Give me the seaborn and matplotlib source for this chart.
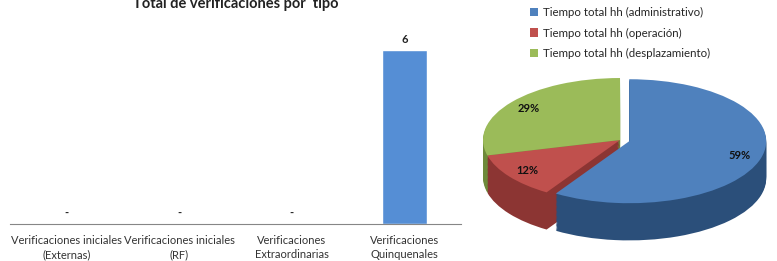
import numpy as np
import pandas as pd
import matplotlib
matplotlib.use("Agg")
import matplotlib.pyplot as plt
import seaborn as sns

tipos = ["Verificaciones iniciales\n(Externas)", "Verificaciones iniciales\n(RF)",
         "Verificaciones\nExtraordinarias", "Verificaciones\nQuinquenales"]
verificaciones = [0, 0, 0, 6]

tiempos = ["Tiempo total hh (administrativo)", "Tiempo total hh (operación)",
           "Tiempo total hh (desplazamiento)"]
porcentajes = [59, 12, 29]

sns.set_style("white")
plt.rcParams["font.family"] = ["Lato", "DejaVu Sans"]

bar_color = "#558ED5"
top_colors = ["#4F81BD", "#C0504D", "#9BBB59"]
side_colors = ["#2B4F7A", "#8C3533", "#6E8A3A"]

fig = plt.figure(figsize=(7.77, 2.61), dpi=100)

# --- bar chart ---
ax = fig.add_axes([10 / 777, 37 / 261, 451 / 777, 194 / 261])
df = pd.DataFrame({"tipo": tipos, "n": verificaciones})
sns.barplot(data=df, x="tipo", y="n", color=bar_color, width=0.4,
            saturation=1, ax=ax)
ax.set_xlim(-0.5, 3.5)
ax.set_ylim(0, 6.69)
ax.set_xlabel("")
ax.set_ylabel("")
ax.set_yticks([])
for s in ["top", "right", "left"]:
    ax.spines[s].set_visible(False)
ax.spines["bottom"].set_color("#868686")
ax.spines["bottom"].set_linewidth(0.8)
ax.set_xticks(np.arange(-0.5, 4, 1), minor=True)
ax.tick_params(axis="x", which="minor", length=5, color="#868686", width=0.8)
ax.tick_params(axis="x", which="major", length=0, pad=8, labelsize=8,
               labelcolor="#333333")
for t in ax.get_xticklabels():
    t.set_linespacing(1.3)
labels = ["-" if v == 0 else str(v) for v in verificaciones]
ax.bar_label(ax.containers[0], labels=labels, padding=3.5, fontsize=8,
             fontweight="bold", color="#222222")
ax.set_title("Total de verificaciones por  tipo", fontsize=10.5,
             fontweight="bold", pad=16, color="#222222")

# --- 3D-looking pie ---
pax = fig.add_axes([470 / 777, 6 / 261, 307 / 777, 190 / 261])
explode = [0.07, 0, 0]
depth = 0.6
steps = 30
for k in range(steps, 0, -1):
    pax.pie(porcentajes, colors=side_colors, startangle=90, counterclock=False,
            explode=explode, center=(0, -depth * k / steps),
            wedgeprops=dict(linewidth=0))
wedges, _, autotexts = pax.pie(
    porcentajes, colors=top_colors, startangle=90, counterclock=False,
    explode=explode, autopct=lambda p: f"{round(p)}%", pctdistance=0.84,
    wedgeprops=dict(linewidth=0),
    textprops=dict(fontsize=8, fontweight="bold", color="#111111"))
pax.set_aspect("auto")
pax.set_xlim(-1.095, 1.146)
pax.set_ylim(-1.855, 1.21)

fig.legend(wedges, tiempos, loc="upper left",
           bbox_to_anchor=(530 / 777, 1 - 7 / 261), frameon=False,
           fontsize=8.3, handlelength=0.7, handleheight=0.7, handletextpad=0.4,
           labelspacing=0.82, borderaxespad=0, borderpad=0)

fig.savefig("out.png", dpi=100)
